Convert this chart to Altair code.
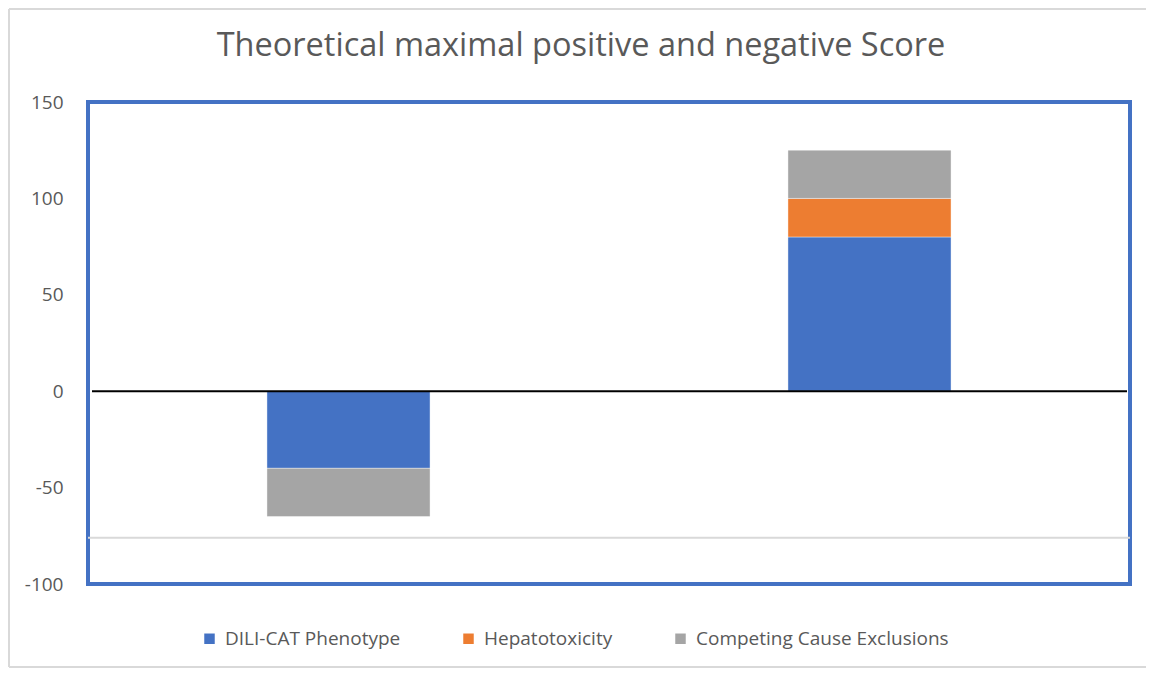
import altair as alt
import pandas as pd

# ---- data ----
title_text = ["Theoretical maximal positive and negative Score"]
categories = ["Negative", "Positive"]
series = ["DILI-CAT Phenotype", "Hepatotoxicity", "Competing Cause Exclusions"]
dili_values = [-40, 80]
hepato_values = [0, 20]
competing_values = [-25, 25]
series_colors = ["#4472C4", "#ED7D31", "#A5A5A5"]
y_ticks = [-100, -50, 0, 50, 100, 150]
zero_line = [0]
lower_line = [-76]

rows = []
for i, cat in enumerate(categories):
    for s_idx, (s, vals) in enumerate(zip(series, [dili_values, hepato_values, competing_values])):
        rows.append({"category": cat, "series": s, "order": s_idx, "value": vals[i]})
df = pd.DataFrame(rows)

FONT = "Open Sans"
TXT = "#595959"
FRAME = "#d9d9d9"

x_enc = alt.X("category:N", sort=categories, axis=None,
              scale=alt.Scale(paddingInner=0.687, paddingOuter=0.3435))

bars = alt.Chart(df).mark_bar(stroke="#ffffff", strokeOpacity=0.4, strokeWidth=1).encode(
    x=x_enc,
    y=alt.Y("value:Q", stack="zero",
            scale=alt.Scale(domain=[-100, 150], nice=False, zero=False),
            axis=alt.Axis(values=y_ticks, title=None, domain=False, ticks=False, grid=False,
                          labelPadding=25, labelFontSize=19, labelColor=TXT, labelFont=FONT,
                          labelExpr="datum.value + ''")),
    color=alt.Color("series:N", sort=series,
                    scale=alt.Scale(domain=series, range=series_colors),
                    legend=alt.Legend(title=None, orient="none", direction="horizontal",
                                      legendX=112, legendY=527, columns=3,
                                      symbolType="square", symbolSize=110,
                                      symbolStrokeWidth=0, labelFontSize=19,
                                      labelColor=TXT, labelFont=FONT, labelLimit=400,
                                      columnPadding=58, labelOffset=6)),
    order=alt.Order("order:Q"),
)

zero_rule = alt.Chart(pd.DataFrame({"y": zero_line})).mark_rule(
    color="#000000", strokeWidth=2).encode(
    y="y:Q", x=alt.value(4), x2=alt.value(1039))

low_rule = alt.Chart(pd.DataFrame({"y": lower_line})).mark_rule(
    color="#d9d9d9", strokeWidth=2).encode(
    y="y:Q", x=alt.value(0), x2=alt.value(1042))

# outer chart-area frame (left, top, bottom edges only)
frame_src = pd.DataFrame({"a": [0]})
frame_left = alt.Chart(frame_src).mark_rule(color=FRAME, strokeWidth=2).encode(
    x=alt.value(-79), y=alt.value(-93), y2=alt.value(565))
frame_top = alt.Chart(frame_src).mark_rule(color=FRAME, strokeWidth=2).encode(
    x=alt.value(-79), x2=alt.value(1058), y=alt.value(-93))
frame_bottom = alt.Chart(frame_src).mark_rule(color=FRAME, strokeWidth=2).encode(
    x=alt.value(-79), x2=alt.value(1058), y=alt.value(565))

title = alt.Chart(pd.DataFrame({"t": title_text})).mark_text(
    font=FONT, fontSize=32.5, color=TXT, align="center", baseline="alphabetic").encode(
    text="t:N", x=alt.value(493), y=alt.value(-46))

chart = alt.layer(frame_left, frame_top, frame_bottom, low_rule, bars, zero_rule, title).properties(
    width=1042, height=482,
    autosize=alt.AutoSizeParams(type="none"),
    padding={"left": 80, "top": 94, "right": 16, "bottom": 84},
).configure(background="#ffffff").configure_view(stroke="#4472C4", strokeWidth=4)

chart.save("out.html", embed_options={"renderer": "svg", "actions": False})
